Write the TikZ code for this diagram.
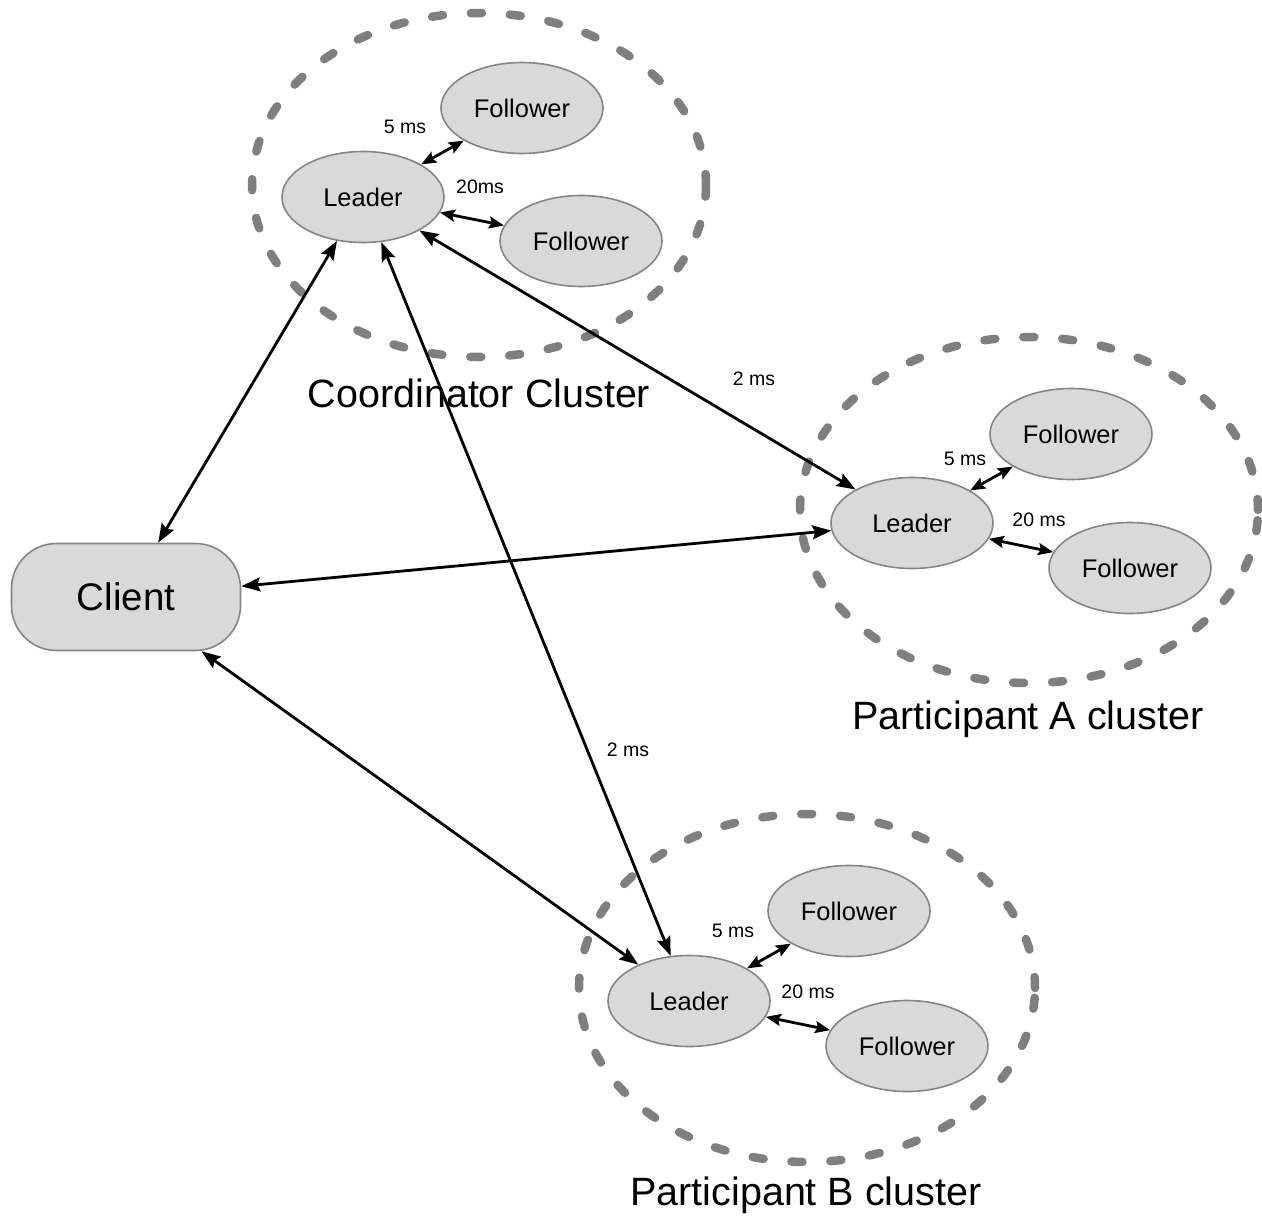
\documentclass[tikz,border=0pt]{standalone}
\usepackage{fontspec}
\setmainfont{Liberation Sans}
\usetikzlibrary{shapes.geometric,arrows.meta}
\definecolor{nodefill}{HTML}{D9D9D9}
\definecolor{nodeline}{HTML}{858585}
\definecolor{dashline}{HTML}{7F7F7F}
\tikzset{
  member/.style={ellipse, draw=nodeline, line width=1.6pt, fill=nodefill, inner sep=0pt,
    minimum width=162pt, minimum height=91pt, font=\fontsize{25.5}{28}\selectfont},
  clientbox/.style={rectangle, draw=nodeline, line width=1.6pt, fill=nodefill, rounded corners=45pt,
    minimum width=229pt, minimum height=107pt, font=\fontsize{38.5}{42}\selectfont},
  cluster/.style={ellipse, draw=dashline, line width=8.5pt, line cap=round,
    dash pattern=on 11pt off 28pt, inner sep=0pt},
  clusterlabel/.style={anchor=base, font=\fontsize{39.5}{44}\selectfont, inner sep=0pt},
  msl/.style={font=\fontsize{19.5}{22}\selectfont, inner sep=0pt},
  bigarrow/.style={line width=2.8pt, {Stealth[length=19pt,width=14pt,inset=3pt]}-{Stealth[length=19pt,width=14pt,inset=3pt]}},
  smallarrow/.style={line width=2.8pt, {Stealth[length=15pt,width=12pt,inset=2.5pt]}-{Stealth[length=15pt,width=12pt,inset=2.5pt]}},
}
\begin{document}
\begin{tikzpicture}[x=1pt,y=-1pt]
\useasboundingbox (0,0) rectangle (1262,1226);
% clusters
\node[cluster, minimum width=454pt, minimum height=344pt] (cc) at (479,185) {};
\node[cluster, minimum width=458pt, minimum height=346pt] (ca) at (1029,510) {};
\node[cluster, minimum width=456pt, minimum height=348pt] (cb) at (807,988) {};
% coordinator
\node[member] (cl) at (363,197) {Leader};
\node[member] (cf1) at (522,108) {Follower};
\node[member] (cf2) at (581,241) {Follower};
% participant A
\node[member] (al) at (912,523) {Leader};
\node[member] (af1) at (1071,434) {Follower};
\node[member] (af2) at (1130,568) {Follower};
% participant B
\node[member] (bl) at (689,1001) {Leader};
\node[member] (bf1) at (849,911) {Follower};
\node[member] (bf2) at (907,1046) {Follower};
% client
\node[clientbox] (client) at (126,597) {Client};
% cluster labels
\node[clusterlabel] (lc) at (479,407) {Coordinator Cluster};
\node[clusterlabel] (la) at (1028,729) {Participant A cluster};
\node[clusterlabel] (lb) at (806,1205) {Participant B cluster};
% latency labels
\node[msl] (m1) at (405,127) {5 ms};
\node[msl] (m2) at (480,187) {20ms};
\node[msl] (m3) at (965,459) {5 ms};
\node[msl] (m4) at (1039,520) {20 ms};
\node[msl] (m5) at (733,931) {5 ms};
\node[msl] (m6) at (808,992) {20 ms};
\node[msl] (m7) at (754,379) {2 ms};
\node[msl] (m8) at (628,750) {2 ms};
% connectors
\draw[smallarrow] (cl) -- (cf1);
\draw[smallarrow] (cl) -- (cf2);
\draw[smallarrow] (al) -- (af1);
\draw[smallarrow] (al) -- (af2);
\draw[smallarrow] (bl) -- (bf1);
\draw[smallarrow] (bl) -- (bf2);
\draw[bigarrow] (client) -- (cl);
\draw[bigarrow] (client) -- (al);
\draw[bigarrow] (client) -- (bl);
\draw[bigarrow] (cl) -- (al);
\draw[bigarrow] (cl) -- (bl);
\end{tikzpicture}
\end{document}
